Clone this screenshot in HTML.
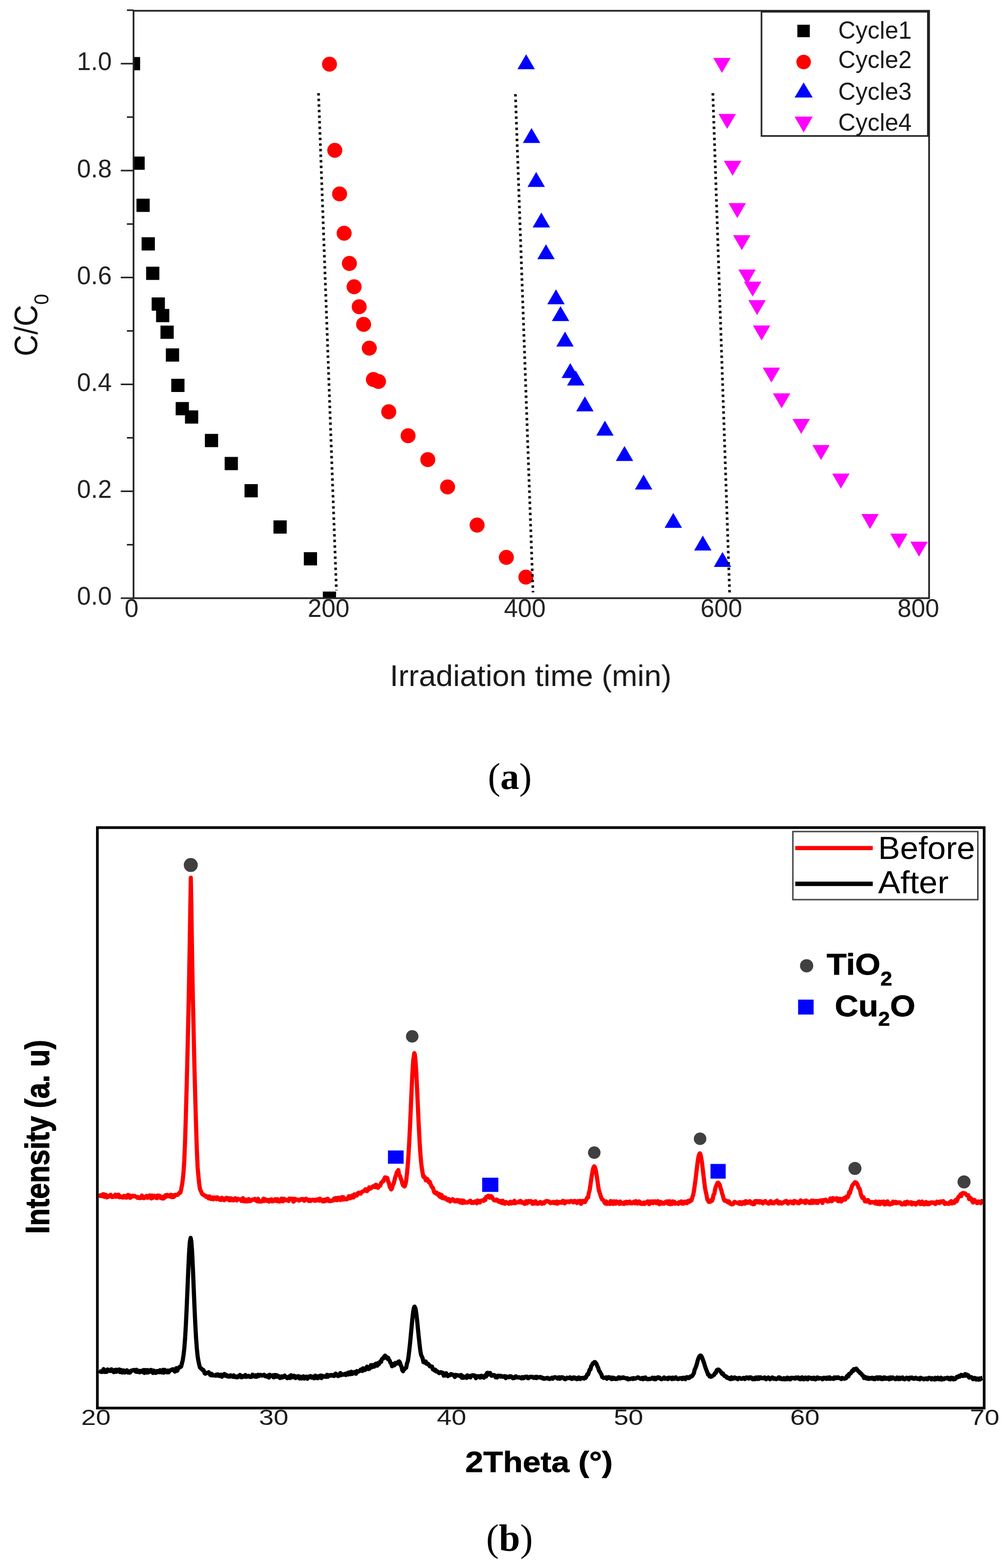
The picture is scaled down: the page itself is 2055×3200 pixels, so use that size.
<!DOCTYPE html>
<html><head><meta charset="utf-8"><title>Figure</title>
<style>html,body{margin:0;padding:0;background:#fff;}body{width:2055px;height:3200px;overflow:hidden;}svg{display:block;}</style>
</head><body>
<svg width="2055" height="3200" viewBox="0 0 2055 3200">
<rect width="2055" height="3200" fill="#fff"/>
<g id="chartA">
<defs><clipPath id="clipA"><rect x="272.5" y="22" width="1623.5" height="1198.8"/></clipPath><clipPath id="clipB"><rect x="198.7" y="1689" width="1809.7" height="1184.6"/></clipPath></defs>
<g clip-path="url(#clipA)">
<g fill="#000"><rect x="259" y="116.4" width="27" height="27"/><rect x="268.3" y="319.5" width="27" height="27"/><rect x="278.5" y="405.5" width="27" height="27"/><rect x="289" y="484.2" width="27" height="27"/><rect x="298.2" y="544.3" width="27" height="27"/><rect x="309.5" y="607" width="27" height="27"/><rect x="318.5" y="630.5" width="27" height="27"/><rect x="327.5" y="664.5" width="27" height="27"/><rect x="338.5" y="711" width="27" height="27"/><rect x="349.5" y="773" width="27" height="27"/><rect x="358.5" y="820.5" width="27" height="27"/><rect x="377.5" y="837.5" width="27" height="27"/><rect x="418.1" y="885.5" width="27" height="27"/><rect x="458.5" y="932.5" width="27" height="27"/><rect x="499" y="988" width="27" height="27"/><rect x="558.1" y="1062" width="27" height="27"/><rect x="620" y="1126.9" width="27" height="27"/><rect x="658.8" y="1207.3" width="27" height="27"/></g>
<g fill="#ff0000"><circle cx="672.4" cy="131" r="15.3"/><circle cx="683.2" cy="306.8" r="15.3"/><circle cx="693" cy="395.7" r="15.3"/><circle cx="702.3" cy="476" r="15.3"/><circle cx="713" cy="537.6" r="15.3"/><circle cx="722.6" cy="585.3" r="15.3"/><circle cx="733" cy="626" r="15.3"/><circle cx="742" cy="662" r="15.3"/><circle cx="753.6" cy="710.5" r="15.3"/><circle cx="762" cy="774.5" r="15.3"/><circle cx="772.4" cy="778.5" r="15.3"/><circle cx="793.3" cy="840.4" r="15.3"/><circle cx="832.8" cy="889.2" r="15.3"/><circle cx="873" cy="938" r="15.3"/><circle cx="913.4" cy="993.7" r="15.3"/><circle cx="973.6" cy="1071.6" r="15.3"/><circle cx="1033.3" cy="1137.5" r="15.3"/><circle cx="1073.2" cy="1177.8" r="15.3"/></g>
<g fill="#0000ff"><path d="M1073.7 110.8L1091.5 141.3L1056 141.3Z"/><path d="M1084.7 261.2L1102.5 291.7L1067 291.7Z"/><path d="M1094.2 351L1112 381.5L1076.5 381.5Z"/><path d="M1104.7 433.7L1122.5 464.2L1087 464.2Z"/><path d="M1114.2 498.5L1132 529L1096.5 529Z"/><path d="M1134.6 590.5L1152.3 621L1116.8 621Z"/><path d="M1143.9 624.7L1161.7 655.2L1126.2 655.2Z"/><path d="M1153.1 676.8L1170.8 707.3L1135.3 707.3Z"/><path d="M1163.8 741L1181.5 771.5L1146 771.5Z"/><path d="M1175 756.3L1192.8 786.8L1157.2 786.8Z"/><path d="M1193.6 808.9L1211.3 839.4L1175.8 839.4Z"/><path d="M1234.5 858.5L1252.2 889L1216.8 889Z"/><path d="M1274.4 910.2L1292.2 940.7L1256.7 940.7Z"/><path d="M1313.4 968.6L1331.2 999.1L1295.7 999.1Z"/><path d="M1374 1046.8L1391.8 1077.3L1356.2 1077.3Z"/><path d="M1434.2 1092.9L1452 1123.4L1416.5 1123.4Z"/><path d="M1474.4 1126.6L1492.2 1157.1L1456.7 1157.1Z"/></g>
<g fill="#ff00ff"><path d="M1455.5 118.3L1491 118.3L1473.3 148.8Z"/><path d="M1466.2 232.6L1501.8 232.6L1484 263.1Z"/><path d="M1477.2 328.2L1512.8 328.2L1495 358.7Z"/><path d="M1486.8 414.4L1522.3 414.4L1504.6 444.9Z"/><path d="M1496 480L1531.5 480L1513.8 510.5Z"/><path d="M1506.8 550L1542.3 550L1524.6 580.5Z"/><path d="M1518.2 574.7L1553.8 574.7L1536 605.2Z"/><path d="M1527.2 612.6L1562.8 612.6L1545 643.1Z"/><path d="M1536.5 664.3L1572 664.3L1554.2 694.8Z"/><path d="M1556.5 750.2L1592 750.2L1574.2 780.7Z"/><path d="M1577.3 802.8L1612.8 802.8L1595.1 833.3Z"/><path d="M1617.3 855L1652.8 855L1635.1 885.5Z"/><path d="M1657.8 908.2L1693.2 908.2L1675.5 938.7Z"/><path d="M1698.2 966.4L1733.8 966.4L1716 996.9Z"/><path d="M1757.8 1049L1793.2 1049L1775.5 1079.5Z"/><path d="M1816.8 1089L1852.2 1089L1834.5 1119.5Z"/><path d="M1857.8 1105.5L1893.2 1105.5L1875.5 1136Z"/></g>
<g stroke="#111" stroke-width="5.5" stroke-dasharray="5 6.4" fill="none">
<line x1="650" y1="190" x2="686.5" y2="1205"/>
<line x1="1051.8" y1="192" x2="1087.7" y2="1209"/>
<line x1="1454.7" y1="190" x2="1489" y2="1211"/>
</g>
</g>
<g stroke="#222" fill="none">
<rect x="272.5" y="22" width="1623.5" height="1198.8" stroke-width="3.5"/>
<line x1="246.5" y1="1220.8" x2="272.5" y2="1220.8" stroke-width="3.2"/>
<line x1="259" y1="1111.7" x2="272.5" y2="1111.7" stroke-width="3.2"/>
<line x1="246.5" y1="1002.6" x2="272.5" y2="1002.6" stroke-width="3.2"/>
<line x1="259" y1="893.5" x2="272.5" y2="893.5" stroke-width="3.2"/>
<line x1="246.5" y1="784.4" x2="272.5" y2="784.4" stroke-width="3.2"/>
<line x1="259" y1="675.3" x2="272.5" y2="675.3" stroke-width="3.2"/>
<line x1="246.5" y1="566.3" x2="272.5" y2="566.3" stroke-width="3.2"/>
<line x1="259" y1="457.2" x2="272.5" y2="457.2" stroke-width="3.2"/>
<line x1="246.5" y1="348.1" x2="272.5" y2="348.1" stroke-width="3.2"/>
<line x1="259" y1="239" x2="272.5" y2="239" stroke-width="3.2"/>
<line x1="246.5" y1="129.9" x2="272.5" y2="129.9" stroke-width="3.2"/>
<line x1="259" y1="20.8" x2="272.5" y2="20.8" stroke-width="3.2"/>
</g>
<g font-family="Liberation Sans, Arial, sans-serif" font-size="51" fill="#222">
<text x="228" y="1234.3" text-anchor="end">0.0</text>
<text x="228" y="1016.1" text-anchor="end">0.2</text>
<text x="228" y="797.9" text-anchor="end">0.4</text>
<text x="228" y="579.8" text-anchor="end">0.6</text>
<text x="228" y="361.6" text-anchor="end">0.8</text>
<text x="228" y="143.4" text-anchor="end">1.0</text>
<text x="268.5" y="1259" text-anchor="middle">0</text>
<text x="670.5" y="1259" text-anchor="middle">200</text>
<text x="1071" y="1259" text-anchor="middle">400</text>
<text x="1472" y="1259" text-anchor="middle">600</text>
<text x="1874" y="1259" text-anchor="middle">800</text>
</g>
<text x="1083" y="1400" text-anchor="middle" font-family="Liberation Sans, Arial, sans-serif" font-size="61" fill="#1a1a1a" textLength="575" lengthAdjust="spacingAndGlyphs">Irradiation time (min)</text>
<g transform="translate(75.5 727) rotate(-90) scale(1 1.08)" font-family="Liberation Sans, Arial, sans-serif" fill="#111"><text x="0" y="0" font-size="61">C/C<tspan font-size="40" dy="22">0</tspan></text></g>
<rect x="1554" y="24" width="339.5" height="253.5" fill="#fff" stroke="#222" stroke-width="3.3"/>
<rect x="1627.2" y="50.5" width="25.4" height="25.4" fill="#000"/>
<circle cx="1640" cy="126.5" r="14.8" fill="#ff0000"/>
<path d="M1640 168.2L1658.5 199L1621.5 199Z" fill="#0000ff"/>
<path d="M1621.5 237.9L1658.5 237.9L1640 270.3Z" fill="#ff00ff"/>
<g font-family="Liberation Sans, Arial, sans-serif" font-size="50" fill="#1a1a1a">
<text x="1710.5" y="78.8" textLength="150" lengthAdjust="spacingAndGlyphs">Cycle1</text>
<text x="1710.5" y="139.4" textLength="150" lengthAdjust="spacingAndGlyphs">Cycle2</text>
<text x="1710.5" y="204.2" textLength="150" lengthAdjust="spacingAndGlyphs">Cycle3</text>
<text x="1710.5" y="266.7" textLength="150" lengthAdjust="spacingAndGlyphs">Cycle4</text>
</g>
</g>
<text x="1040.3" y="1610" text-anchor="middle" font-family="Liberation Serif, Times New Roman, serif" font-size="77" fill="#000">(<tspan font-weight="bold">a</tspan>)</text>
<g id="chartB">
<g clip-path="url(#clipB)" fill="none" stroke-linejoin="round">
<polyline points="201.7,2438.3 203.3,2440.4 204.9,2439.3 206.5,2440.9 208.1,2441 209.7,2437.4 211.3,2437.1 212.9,2442.5 214.5,2438.8 216.1,2438.6 217.7,2443.7 219.3,2440.3 220.9,2442.7 222.5,2440.4 224.1,2441.5 225.7,2438.3 227.3,2441.5 228.9,2443.1 230.5,2440.9 232.1,2442.3 233.7,2441.9 235.3,2437.9 236.9,2442.6 238.5,2441.5 240.1,2439.6 241.7,2437.9 243.3,2443.4 244.9,2440.9 246.5,2442.5 248.1,2443.6 249.7,2442.6 251.3,2444 252.9,2440.5 254.5,2443.3 256.1,2440.9 257.7,2444.2 259.3,2443.9 260.9,2438.8 262.5,2439 264.1,2439.6 265.7,2444.6 267.3,2441.1 268.9,2442.4 270.5,2440.3 272.1,2441.7 273.7,2441 275.3,2440.8 276.9,2442.3 278.5,2442.4 280.1,2444.5 281.7,2443.1 283.3,2444.8 284.9,2444.3 286.5,2445.2 288.1,2443.2 289.7,2439.8 291.3,2444.5 292.9,2445.2 294.5,2444.9 296.1,2442.7 297.7,2443.7 299.3,2440.4 300.9,2444.5 302.5,2442.8 304.1,2441 305.7,2439.6 307.3,2444.8 308.9,2445.7 310.5,2439.8 312.1,2444.6 313.7,2442 315.3,2440.4 316.9,2441.3 318.5,2444.5 320.1,2445.2 321.7,2439.8 323.3,2443.6 324.9,2439.9 326.5,2444.4 328.1,2441.8 329.7,2445.5 331.3,2446 332.9,2442.6 334.5,2445.7 336.1,2440.9 337.7,2439.2 339.3,2442.4 340.9,2438.4 342.5,2439.3 344.1,2440.5 345.7,2441.8 347.3,2438.8 348.9,2438.2 350.5,2443.3 352.1,2439.3 353.7,2443.1 355.3,2442.2 356.9,2438.4 358.5,2438.5 360.1,2438.4 361.7,2438.8 363.3,2438 364.9,2435.7 366.5,2434 368.1,2433.9 369.7,2427.7 371.3,2418.7 372.9,2408.7 374.5,2392.7 376.1,2368 377.7,2328.6 379.3,2276.5 380.9,2219.6 382.5,2155.1 384.1,2086.6 385.7,2010.2 387.3,1919.6 389.4,1791.3 390.5,1851.1 392.1,1958.4 393.7,2041.9 395.3,2113.3 396.9,2181.3 398.5,2242 400.1,2297.2 401.7,2346.5 403.3,2383.1 404.9,2400 406.5,2416 408.1,2426.7 409.7,2430.1 411.3,2433.8 412.9,2437.1 414.5,2437.6 416.1,2439.5 417.7,2439.7 419.3,2440.7 420.9,2442.8 422.5,2441.5 424.1,2442.6 425.7,2445.8 427.3,2441.5 428.9,2445.7 430.5,2447 432.1,2444.3 433.7,2443.8 435.3,2447.7 436.9,2444.1 438.5,2443.8 440.1,2445.5 441.7,2447.3 443.3,2443.5 444.9,2445 446.5,2445.2 448.1,2448.6 449.7,2446 451.3,2448.9 452.9,2444.4 454.5,2445.6 456.1,2447.8 457.7,2449.4 459.3,2446.6 460.9,2445.2 462.5,2444.6 464.1,2447.4 465.7,2445.2 467.3,2449.3 468.9,2449.6 470.5,2445.3 472.1,2446 473.7,2449.6 475.3,2448.6 476.9,2449.7 478.5,2446.7 480.1,2445.4 481.7,2446.5 483.3,2449.9 484.9,2446.5 486.5,2447.1 488.1,2447.6 489.7,2447.7 491.3,2447.7 492.9,2451.1 494.5,2446.2 496.1,2445.2 497.7,2451.5 499.3,2451.1 500.9,2451.9 502.5,2448.3 504.1,2451.8 505.7,2451.7 507.3,2447.1 508.9,2450.6 510.5,2451.3 512.1,2450.2 513.7,2449.3 515.3,2447.9 516.9,2448.3 518.5,2447.6 520.1,2446.6 521.7,2450.1 523.3,2448.1 524.9,2451.5 526.5,2446.5 528.1,2452.1 529.7,2450.7 531.3,2452.2 532.9,2452.1 534.5,2452.1 536.1,2449.9 537.7,2446.2 539.3,2451 540.9,2447.3 542.5,2448.1 544.1,2450.5 545.7,2449.6 547.3,2448.8 548.9,2452.3 550.5,2450.1 552.1,2448.3 553.7,2447.7 555.3,2451.8 556.9,2449.2 558.5,2451.2 560.1,2448.4 561.7,2447.4 563.3,2449.6 564.9,2451.4 566.5,2447.2 568.1,2451.3 569.7,2452.1 571.3,2451.3 572.9,2451.5 574.5,2446.1 576.1,2450.2 577.7,2451.7 579.3,2446.3 580.9,2447.8 582.5,2447.8 584.1,2449.5 585.7,2448.8 587.3,2449.1 588.9,2451.1 590.5,2446 592.1,2446.3 593.7,2446.8 595.3,2446.8 596.9,2446.4 598.5,2452.4 600.1,2451.6 601.7,2446.5 603.3,2449.2 604.9,2448 606.5,2448 608.1,2448.2 609.7,2450.2 611.3,2449.8 612.9,2448.3 614.5,2447.1 616.1,2448 617.7,2446.7 619.3,2449.5 620.9,2450.6 622.5,2448.4 624.1,2446.4 625.7,2447 627.3,2448.3 628.9,2449.8 630.5,2451 632.1,2448.3 633.7,2451.1 635.3,2449.9 636.9,2448.7 638.5,2448.3 640.1,2449.1 641.7,2450.4 643.3,2448.6 644.9,2450.4 646.5,2448.8 648.1,2447.4 649.7,2449.3 651.3,2450.3 652.9,2446.2 654.5,2448.5 656.1,2448.5 657.7,2451.5 659.3,2451.9 660.9,2448.2 662.5,2451.6 664.1,2450.9 665.7,2447.4 667.3,2448.8 668.9,2446.5 670.5,2451.1 672.1,2450.1 673.7,2451.5 675.3,2450.9 676.9,2450.1 678.5,2450.5 680.1,2449.4 681.7,2446.1 683.3,2449 684.9,2444.9 686.5,2445.6 688.1,2449.5 689.7,2444.5 691.3,2444.6 692.9,2444.4 694.5,2449.3 696.1,2444.4 697.7,2443.1 699.3,2448.3 700.9,2443.3 702.5,2447.8 704.1,2446.5 705.7,2447.3 707.3,2447.8 708.9,2445.1 710.5,2446.3 712.1,2441 713.7,2445.6 715.3,2443.7 716.9,2444.5 718.5,2439.8 720.1,2443.3 721.7,2443.8 723.3,2437.3 724.9,2438.3 726.5,2439.1 728.1,2440.1 729.7,2435.5 731.3,2434.4 732.9,2434.1 734.5,2435.8 736.1,2436 737.7,2432.9 739.3,2432 740.9,2431.4 742.5,2430.4 744.1,2430.1 745.7,2427 747.3,2428.8 748.9,2431.1 750.5,2426.5 752.1,2427.8 753.7,2423.1 755.3,2425.7 756.9,2425.2 758.5,2423.8 760.1,2421.9 761.7,2420.8 763.3,2420.9 764.9,2422.7 766.5,2418.1 768.1,2418.1 769.7,2422.8 771.3,2424.2 772.9,2421.7 774.5,2419.4 776.1,2419.5 777.7,2414.2 779.3,2413 780.9,2410.8 782.5,2410.6 784.1,2406.1 785.7,2402.7 787.3,2403 788.9,2403.8 790.5,2404.1 792.1,2411.5 793.7,2414.3 795.3,2421.9 796.9,2424.8 798.5,2427.4 800.1,2424.8 801.7,2418.1 803.3,2415.7 804.9,2409.7 806.5,2402.8 808.1,2398.6 809.7,2392.9 811.3,2390.5 812.9,2387.8 814.5,2398.1 816.1,2399.3 817.7,2404.7 819.3,2408.3 820.9,2415 822.5,2418.9 824.1,2420.4 825.7,2421.4 827.3,2417.3 828.9,2409.6 830.5,2395.1 832.1,2378.5 833.7,2355.9 835.3,2327.8 836.9,2294.6 838.5,2258 840.1,2221.2 841.7,2188.2 843.3,2163.4 845.5,2149.2 846.5,2151.6 848.1,2166.4 849.7,2192.4 851.3,2225.4 852.9,2261.2 854.5,2295.8 856.1,2326.5 857.7,2351.7 859.3,2371.4 860.9,2384.3 862.5,2394 864.1,2401.9 865.7,2401.1 867.3,2403.1 868.9,2409 870.5,2405.8 872.1,2406.3 873.7,2409.6 875.3,2413.1 876.9,2411.5 878.5,2416.4 880.1,2419.8 881.7,2422.9 883.3,2423.8 884.9,2429 886.5,2434.1 888.1,2433.1 889.7,2436 891.3,2434 892.9,2435.8 894.5,2439.2 896.1,2436.4 897.7,2442.3 899.3,2443.2 900.9,2438.6 902.5,2445 904.1,2442.1 905.7,2445.5 907.3,2446.2 908.9,2443.9 910.5,2447.2 912.1,2447.8 913.7,2449.6 915.3,2446.8 916.9,2450.5 918.5,2452.1 920.1,2450.4 921.7,2449.7 923.3,2447.1 924.9,2449.8 926.5,2449.1 928.1,2451.7 929.7,2451.7 931.3,2451.2 932.9,2448.8 934.5,2452.1 936.1,2452.2 937.7,2449.4 939.3,2454.3 940.9,2453 942.5,2449.7 944.1,2455.2 945.7,2450.2 947.3,2451.6 948.9,2454.4 950.5,2453.8 952.1,2453.7 953.7,2454.3 955.3,2453.1 956.9,2452.1 958.5,2451.2 960.1,2450.5 961.7,2454.8 963.3,2455.1 964.9,2453.7 966.5,2454.9 968.1,2452.4 969.7,2451.8 971.3,2452.5 972.9,2455.7 974.5,2450.1 976.1,2453 977.7,2451.1 979.3,2454.2 980.9,2451 982.5,2450.3 984.1,2450 985.7,2450.1 987.3,2450.6 988.9,2446.7 990.5,2448.8 992.1,2442.8 993.7,2442.8 995.3,2440.8 996.9,2440.3 999,2444.4 1000.1,2444.2 1001.7,2441 1003.3,2441.8 1004.9,2444.2 1006.5,2447.5 1008.1,2449.1 1009.7,2449.9 1011.3,2449.9 1012.9,2447.9 1014.5,2450.4 1016.1,2449.7 1017.7,2452.5 1019.3,2453.2 1020.9,2451 1022.5,2451.6 1024.1,2455.2 1025.7,2450.4 1027.3,2455.5 1028.9,2456.2 1030.5,2456.6 1032.1,2452.9 1033.7,2454 1035.3,2454.2 1036.9,2454.6 1038.5,2456.8 1040.1,2454.9 1041.7,2452.4 1043.3,2456.1 1044.9,2453.6 1046.5,2454.4 1048.1,2455.2 1049.7,2450.5 1051.3,2455.5 1052.9,2454.8 1054.5,2453.7 1056.1,2453.9 1057.7,2453.5 1059.3,2451.8 1060.9,2454 1062.5,2450.8 1064.1,2453.8 1065.7,2454.8 1067.3,2453.5 1068.9,2454.3 1070.5,2456.9 1072.1,2456.4 1073.7,2451.4 1075.3,2455.8 1076.9,2454.7 1078.5,2450.9 1080.1,2452.9 1081.7,2452.1 1083.3,2451.1 1084.9,2454.1 1086.5,2456.7 1088.1,2452.7 1089.7,2456.4 1091.3,2455.2 1092.9,2451.5 1094.5,2456.3 1096.1,2454.6 1097.7,2456.8 1099.3,2455.4 1100.9,2455.5 1102.5,2452.9 1104.1,2456 1105.7,2456.8 1107.3,2456.3 1108.9,2453.5 1110.5,2455.7 1112.1,2453.9 1113.7,2451.4 1115.3,2451 1116.9,2451.2 1118.5,2452 1120.1,2451.7 1121.7,2454 1123.3,2455.3 1124.9,2454.2 1126.5,2453.5 1128.1,2455 1129.7,2452.7 1131.3,2453.8 1132.9,2455.7 1134.5,2453.4 1136.1,2451.9 1137.7,2456.6 1139.3,2455.5 1140.9,2453.1 1142.5,2453.2 1144.1,2454.2 1145.7,2454.7 1147.3,2452.2 1148.9,2450.7 1150.5,2452.1 1152.1,2455.9 1153.7,2451.7 1155.3,2453.8 1156.9,2452 1158.5,2452.1 1160.1,2451.8 1161.7,2453.4 1163.3,2451.8 1164.9,2450.9 1166.5,2451.4 1168.1,2451.8 1169.7,2453.9 1171.3,2451.1 1172.9,2450.8 1174.5,2453.6 1176.1,2453.3 1177.7,2455.3 1179.3,2451 1180.9,2453.3 1182.5,2453.2 1184.1,2450.7 1185.7,2456.9 1187.3,2451.9 1188.9,2450.9 1190.5,2453.3 1192.1,2450.9 1193.7,2453.3 1195.3,2450.4 1196.9,2447.2 1198.5,2443.8 1200.1,2443.8 1201.7,2434.8 1203.3,2429.2 1204.9,2418.1 1206.5,2407.4 1208.1,2396.9 1209.7,2387.9 1211.3,2382 1212.7,2380.3 1214.5,2383.1 1216.1,2389.9 1217.7,2399.4 1219.3,2410.2 1220.9,2422 1222.5,2430.7 1224.1,2434.8 1225.7,2440.5 1227.3,2444.9 1228.9,2448.1 1230.5,2448.8 1232.1,2449.9 1233.7,2454.3 1235.3,2456.3 1236.9,2451.8 1238.5,2457 1240.1,2453.8 1241.7,2456 1243.3,2456.8 1244.9,2457 1246.5,2451 1248.1,2452.8 1249.7,2454.8 1251.3,2457.1 1252.9,2451.5 1254.5,2452.8 1256.1,2456.5 1257.7,2451.7 1259.3,2453.5 1260.9,2453.1 1262.5,2455.4 1264.1,2457.1 1265.7,2452.1 1267.3,2455.9 1268.9,2455.8 1270.5,2456.5 1272.1,2454.7 1273.7,2457.1 1275.3,2453.4 1276.9,2453.8 1278.5,2452.6 1280.1,2456.2 1281.7,2454.2 1283.3,2452.8 1284.9,2452.2 1286.5,2455.8 1288.1,2455.1 1289.7,2455.8 1291.3,2453.6 1292.9,2454.3 1294.5,2452.1 1296.1,2455.8 1297.7,2451.3 1299.3,2454.2 1300.9,2456.1 1302.5,2455.6 1304.1,2451.8 1305.7,2452.7 1307.3,2456.7 1308.9,2455.4 1310.5,2456.9 1312.1,2456.9 1313.7,2454.1 1315.3,2457.1 1316.9,2456 1318.5,2453.4 1320.1,2453.6 1321.7,2451.6 1323.3,2453.8 1324.9,2457.5 1326.5,2451.9 1328.1,2454.9 1329.7,2451.9 1331.3,2451.7 1332.9,2455.5 1334.5,2452.8 1336.1,2451.5 1337.7,2452.2 1339.3,2455.5 1340.9,2455.1 1342.5,2451.3 1344.1,2452.7 1345.7,2457.6 1347.3,2452.7 1348.9,2454.9 1350.5,2454 1352.1,2456.4 1353.7,2455.2 1355.3,2456.4 1356.9,2454.7 1358.5,2452.5 1360.1,2452.4 1361.7,2451.7 1363.3,2456.7 1364.9,2451.9 1366.5,2451.4 1368.1,2457.6 1369.7,2452.5 1371.3,2457.1 1372.9,2451.8 1374.5,2454.3 1376.1,2452.6 1377.7,2456.6 1379.3,2455.2 1380.9,2455.4 1382.5,2456.2 1384.1,2456.9 1385.7,2453.4 1387.3,2455.1 1388.9,2454 1390.5,2451.8 1392.1,2456.5 1393.7,2454.9 1395.3,2456.3 1396.9,2452.3 1398.5,2454.4 1400.1,2453.9 1401.7,2455.5 1403.3,2451 1404.9,2452.5 1406.5,2452.9 1408.1,2449.2 1409.7,2450.8 1411.3,2449.4 1412.9,2443.4 1414.5,2439.1 1416.1,2430.7 1417.7,2419.5 1419.3,2408 1420.9,2394.5 1422.5,2380.8 1424.1,2368.5 1425.7,2359.1 1428,2353.7 1428.9,2354.5 1430.5,2360.1 1432.1,2369.9 1433.7,2382.5 1435.3,2396.2 1436.9,2409.5 1438.5,2422.5 1440.1,2431.4 1441.7,2438.3 1443.3,2447.2 1444.9,2450.5 1446.5,2452.9 1448.1,2450.7 1449.7,2452.5 1451.3,2448.9 1452.9,2450.7 1454.5,2446.9 1456.1,2438.4 1457.7,2436.7 1459.3,2427.2 1460.9,2421.5 1462.5,2418.1 1464.1,2414.3 1465.5,2413.6 1467.3,2415.4 1468.9,2418.1 1470.5,2425.1 1472.1,2429.3 1473.7,2435.8 1475.3,2440.4 1476.9,2447.2 1478.5,2450.5 1480.1,2449.7 1481.7,2449.9 1483.3,2452.1 1484.9,2453.4 1486.5,2451.5 1488.1,2452.2 1489.7,2456.3 1491.3,2455.9 1492.9,2457.8 1494.5,2457.8 1496.1,2457.2 1497.7,2453.9 1499.3,2452.5 1500.9,2453.5 1502.5,2454.5 1504.1,2454.9 1505.7,2455 1507.3,2453.8 1508.9,2457 1510.5,2453.2 1512.1,2454.4 1513.7,2457.2 1515.3,2456.6 1516.9,2453.2 1518.5,2452.9 1520.1,2456.6 1521.7,2451.3 1523.3,2452.1 1524.9,2454.7 1526.5,2454.7 1528.1,2452.2 1529.7,2451.4 1531.3,2452.4 1532.9,2456.1 1534.5,2454.1 1536.1,2457.5 1537.7,2456.2 1539.3,2457.4 1540.9,2451.2 1542.5,2452.1 1544.1,2451 1545.7,2453.7 1547.3,2453.1 1548.9,2451.2 1550.5,2454.4 1552.1,2451.4 1553.7,2452.8 1555.3,2452.3 1556.9,2456 1558.5,2453.4 1560.1,2452.4 1561.7,2450.9 1563.3,2453.4 1564.9,2454.7 1566.5,2455 1568.1,2456.5 1569.7,2455.8 1571.3,2452.1 1572.9,2451.3 1574.5,2455.4 1576.1,2455.6 1577.7,2453.7 1579.3,2455.8 1580.9,2453.9 1582.5,2452.1 1584.1,2451.4 1585.7,2450.3 1587.3,2454.4 1588.9,2456.1 1590.5,2456.1 1592.1,2453.2 1593.7,2454.5 1595.3,2456.2 1596.9,2455.4 1598.5,2454 1600.1,2452.7 1601.7,2453.4 1603.3,2451.1 1604.9,2451.1 1606.5,2454.4 1608.1,2456.4 1609.7,2453.4 1611.3,2452.5 1612.9,2452.1 1614.5,2452.7 1616.1,2455 1617.7,2452.7 1619.3,2456 1620.9,2450.7 1622.5,2451.7 1624.1,2453 1625.7,2452.3 1627.3,2455.2 1628.9,2455 1630.5,2455.6 1632.1,2453.5 1633.7,2449.6 1635.3,2453.2 1636.9,2453 1638.5,2452.6 1640.1,2451.2 1641.7,2454 1643.3,2455.3 1644.9,2449.9 1646.5,2453.6 1648.1,2451.6 1649.7,2452.6 1651.3,2455 1652.9,2455.4 1654.5,2453.3 1656.1,2450.3 1657.7,2455.1 1659.3,2450.2 1660.9,2451.5 1662.5,2454.4 1664.1,2451 1665.7,2450.7 1667.3,2455.1 1668.9,2455 1670.5,2450.9 1672.1,2451.4 1673.7,2450.6 1675.3,2449.6 1676.9,2450.3 1678.5,2455.1 1680.1,2449.1 1681.7,2449.8 1683.3,2449.3 1684.9,2448.1 1686.5,2450.8 1688.1,2451.9 1689.7,2452.2 1691.3,2450.5 1692.9,2451.4 1694.5,2445.7 1696.1,2447.2 1697.7,2451.4 1699.3,2445.1 1700.9,2446.4 1702.5,2447.9 1704.1,2446.6 1705.7,2448.5 1707.3,2445.3 1708.9,2446.6 1710.5,2451.5 1712.1,2446.2 1713.7,2451.3 1715.3,2446.5 1716.9,2451.9 1718.5,2449.7 1720.1,2449.3 1721.7,2445.6 1723.3,2444.4 1724.9,2448.2 1726.5,2443.2 1728.1,2441.6 1729.7,2443.6 1731.3,2441.3 1732.9,2432.7 1734.5,2434.8 1736.1,2428.5 1737.7,2423.9 1739.3,2419.4 1740.9,2417.1 1742.5,2415.9 1744.1,2413.1 1745.4,2412.6 1747.3,2413.5 1748.9,2415.4 1750.5,2418.9 1752.1,2424.4 1753.7,2425.1 1755.3,2429.5 1756.9,2437.8 1758.5,2442.1 1760.1,2445.1 1761.7,2443 1763.3,2445.9 1764.9,2451.5 1766.5,2449.7 1768.1,2452.2 1769.7,2450.3 1771.3,2448.9 1772.9,2451.4 1774.5,2454.3 1776.1,2454.8 1777.7,2453.6 1779.3,2453 1780.9,2453.7 1782.5,2453.2 1784.1,2453.9 1785.7,2456 1787.3,2452 1788.9,2454.7 1790.5,2457 1792.1,2456.6 1793.7,2452.3 1795.3,2457.6 1796.9,2456.9 1798.5,2452.6 1800.1,2453.3 1801.7,2452.9 1803.3,2452 1804.9,2458.1 1806.5,2454.3 1808.1,2457.4 1809.7,2452.4 1811.3,2451.7 1812.9,2457.4 1814.5,2456.9 1816.1,2458.2 1817.7,2456.2 1819.3,2455.1 1820.9,2456.7 1822.5,2452.2 1824.1,2455.2 1825.7,2454.6 1827.3,2452.6 1828.9,2455.6 1830.5,2453.8 1832.1,2455 1833.7,2454.1 1835.3,2453.7 1836.9,2454 1838.5,2455.6 1840.1,2458.1 1841.7,2457.8 1843.3,2457.3 1844.9,2457.2 1846.5,2453.5 1848.1,2458.1 1849.7,2453.4 1851.3,2452.5 1852.9,2455 1854.5,2456.5 1856.1,2453.9 1857.7,2455.9 1859.3,2453.5 1860.9,2458 1862.5,2454.6 1864.1,2454.8 1865.7,2455.2 1867.3,2457.4 1868.9,2458.2 1870.5,2455.1 1872.1,2454.6 1873.7,2455.7 1875.3,2452.1 1876.9,2454.5 1878.5,2457.3 1880.1,2456.8 1881.7,2452.1 1883.3,2457.3 1884.9,2454.2 1886.5,2458.1 1888.1,2454.1 1889.7,2453.1 1891.3,2455.3 1892.9,2457.5 1894.5,2454.5 1896.1,2457.4 1897.7,2456.3 1899.3,2454 1900.9,2453.6 1902.5,2454.9 1904.1,2454.2 1905.7,2454 1907.3,2455.8 1908.9,2457.3 1910.5,2455.3 1912.1,2452.4 1913.7,2452.8 1915.3,2453.8 1916.9,2455.4 1918.5,2452.2 1920.1,2451.8 1921.7,2453.3 1923.3,2453.1 1924.9,2451.3 1926.5,2454.7 1928.1,2457.2 1929.7,2454.6 1931.3,2455.9 1932.9,2456.4 1934.5,2456.4 1936.1,2456.9 1937.7,2453.7 1939.3,2455.2 1940.9,2451.3 1942.5,2456.1 1944.1,2452.5 1945.7,2452.8 1947.3,2455 1948.9,2450.3 1950.5,2448.7 1952.1,2451.7 1953.7,2448.8 1955.3,2443.7 1956.9,2441.5 1958.5,2441.6 1960.1,2437.4 1961.7,2441 1963.3,2435.2 1964.9,2434.7 1966.5,2434.7 1967.4,2435.3 1969.7,2435.4 1971.3,2437.7 1972.9,2439.4 1974.5,2439.7 1976.1,2439.4 1977.7,2447.1 1979.3,2447 1980.9,2444.7 1982.5,2448.4 1984.1,2451.7 1985.7,2454.1 1987.3,2448.7 1988.9,2448.9 1990.5,2452.3 1992.1,2452.2 1993.7,2455.4 1995.3,2455.1 1996.9,2451.9 1998.5,2452.5 2000.1,2453.5 2001.7,2455.5 2003.3,2451 2004.9,2452.2" stroke="#ff0000" stroke-width="8.5"/>
<polyline points="201.7,2797.6 203.3,2798.5 204.9,2798.8 206.5,2799.8 208.1,2798.6 209.7,2799.8 211.3,2794.1 212.9,2796.9 214.5,2800 216.1,2798.2 217.7,2799.8 219.3,2794.8 220.9,2797.2 222.5,2795.8 224.1,2797.7 225.7,2798 227.3,2794.4 228.9,2795.7 230.5,2796.2 232.1,2800.3 233.7,2799.4 235.3,2795.5 236.9,2799.7 238.5,2795.5 240.1,2798.6 241.7,2795.5 243.3,2794.7 244.9,2800.3 246.5,2796.1 248.1,2796.2 249.7,2801.1 251.3,2800.5 252.9,2796.8 254.5,2801.1 256.1,2798.5 257.7,2799.4 259.3,2796.4 260.9,2801.1 262.5,2799.6 264.1,2801.4 265.7,2800.9 267.3,2797.2 268.9,2797.6 270.5,2796.4 272.1,2796.3 273.7,2795.8 275.3,2797.3 276.9,2799.3 278.5,2795.5 280.1,2799.8 281.7,2797.7 283.3,2797.5 284.9,2800.8 286.5,2798.7 288.1,2797.6 289.7,2798.7 291.3,2800.2 292.9,2796 294.5,2801.9 296.1,2795.9 297.7,2800.5 299.3,2801.2 300.9,2795.9 302.5,2800.8 304.1,2798.1 305.7,2799.5 307.3,2795.8 308.9,2796.1 310.5,2796.9 312.1,2801.9 313.7,2797 315.3,2800.6 316.9,2801.7 318.5,2801.8 320.1,2797.9 321.7,2798 323.3,2799 324.9,2800.6 326.5,2796.3 328.1,2800.3 329.7,2800.6 331.3,2800.9 332.9,2795.6 334.5,2801.3 336.1,2795.7 337.7,2797.2 339.3,2798.8 340.9,2800.8 342.5,2797 344.1,2800.6 345.7,2798.1 347.3,2796.5 348.9,2796.3 350.5,2795.2 352.1,2794.4 353.7,2794.5 355.3,2797.6 356.9,2799.2 358.5,2793.4 360.1,2792.1 361.7,2797.4 363.3,2793.7 364.9,2791.9 366.5,2789.5 368.1,2789.9 369.7,2788.6 371.3,2782.4 372.9,2776 374.5,2765.8 376.1,2752.1 377.7,2731.6 379.3,2704.3 380.9,2670.6 382.5,2632.6 384.1,2593.8 385.7,2559.6 387.3,2535.5 389,2526.2 390.5,2533.7 392.1,2556.4 393.7,2590 395.3,2628.7 396.9,2667.4 398.5,2702 400.1,2730.4 401.7,2752 403.3,2768 404.9,2777.7 406.5,2784.8 408.1,2790.8 409.7,2792.3 411.3,2793.3 412.9,2795.7 414.5,2795.4 416.1,2797.9 417.7,2802.8 419.3,2803.5 420.9,2802.1 422.5,2802 424.1,2801.5 425.7,2800.5 427.3,2802.2 428.9,2805.9 430.5,2806.8 432.1,2803.8 433.7,2806.8 435.3,2807 436.9,2806.7 438.5,2806.7 440.1,2807.5 441.7,2805.1 443.3,2807.4 444.9,2804.8 446.5,2806.3 448.1,2808.2 449.7,2807.8 451.3,2805.4 452.9,2809.7 454.5,2807.9 456.1,2807.5 457.7,2803.9 459.3,2807.4 460.9,2805.6 462.5,2808.4 464.1,2807.1 465.7,2809.4 467.3,2808.4 468.9,2809.4 470.5,2806.6 472.1,2808.5 473.7,2809.2 475.3,2809.8 476.9,2806.8 478.5,2810 480.1,2810.2 481.7,2809.1 483.3,2810.9 484.9,2810.8 486.5,2808.1 488.1,2808.2 489.7,2805.9 491.3,2810.2 492.9,2810.9 494.5,2808 496.1,2809.3 497.7,2809.6 499.3,2809.6 500.9,2806.1 502.5,2810 504.1,2808.8 505.7,2809.3 507.3,2807.8 508.9,2809.1 510.5,2810.1 512.1,2809.2 513.7,2809.8 515.3,2805.4 516.9,2806.2 518.5,2808 520.1,2809.4 521.7,2806.7 523.3,2809.7 524.9,2809.3 526.5,2805.6 528.1,2808.3 529.7,2806.8 531.3,2805.7 532.9,2806.2 534.5,2807.4 536.1,2806.6 537.7,2806.6 539.3,2805.6 540.9,2808.4 542.5,2807.9 544.1,2809.4 545.7,2809.2 547.3,2807 548.9,2811.3 550.5,2805.5 552.1,2808.2 553.7,2807.4 555.3,2808.3 556.9,2806.4 558.5,2811 560.1,2808.2 561.7,2806 563.3,2809.8 564.9,2806.5 566.5,2809.4 568.1,2808.1 569.7,2809.7 571.3,2812.2 572.9,2811.3 574.5,2808.8 576.1,2811.4 577.7,2810.3 579.3,2808.6 580.9,2807.2 582.5,2810.1 584.1,2810 585.7,2812.5 587.3,2812.6 588.9,2810.4 590.5,2808.8 592.1,2812.3 593.7,2806.6 595.3,2807.3 596.9,2810.3 598.5,2810.6 600.1,2807.6 601.7,2810.8 603.3,2812.5 604.9,2809.3 606.5,2809.6 608.1,2808.4 609.7,2808.8 611.3,2813.2 612.9,2809.5 614.5,2813.2 616.1,2813 617.7,2811 619.3,2808.8 620.9,2813.5 622.5,2810.4 624.1,2810 625.7,2809.4 627.3,2813.7 628.9,2810.6 630.5,2809.3 632.1,2810.5 633.7,2808.3 635.3,2811.5 636.9,2810.4 638.5,2809.5 640.1,2812.7 641.7,2812.8 643.3,2807.4 644.9,2810.6 646.5,2808.8 648.1,2812.8 649.7,2811.7 651.3,2808.1 652.9,2808.1 654.5,2807.2 656.1,2812.4 657.7,2807.8 659.3,2809.6 660.9,2808.6 662.5,2809.6 664.1,2809.1 665.7,2809.9 667.3,2805.7 668.9,2809.7 670.5,2806.6 672.1,2807.9 673.7,2806.5 675.3,2806.1 676.9,2807.4 678.5,2806.8 680.1,2806 681.7,2808.2 683.3,2807 684.9,2803.3 686.5,2804.5 688.1,2805.6 689.7,2808.3 691.3,2807.9 692.9,2805.5 694.5,2801.9 696.1,2806.6 697.7,2804.2 699.3,2804.9 700.9,2805.5 702.5,2804.9 704.1,2803.7 705.7,2806.2 707.3,2802.7 708.9,2802.5 710.5,2805.2 712.1,2800.8 713.7,2801.3 715.3,2804.5 716.9,2799.4 718.5,2804.1 720.1,2803 721.7,2801.1 723.3,2800 724.9,2802.9 726.5,2803.6 728.1,2798.1 729.7,2799.6 731.3,2799.4 732.9,2798.5 734.5,2796.8 736.1,2795 737.7,2797.1 739.3,2797.9 740.9,2792.5 742.5,2792.9 744.1,2796.1 745.7,2795.3 747.3,2793.8 748.9,2789.1 750.5,2792.9 752.1,2793.9 753.7,2793.4 755.3,2790.8 756.9,2786 758.5,2790.4 760.1,2785.8 761.7,2787.8 763.3,2789.3 764.9,2787.3 766.5,2783.1 768.1,2783.7 769.7,2787.2 771.3,2781.8 772.9,2784.3 774.5,2781.7 776.1,2778.3 777.7,2779.4 779.3,2773.9 780.9,2772.4 782.5,2772.3 784.1,2768.5 785.7,2766.6 787.3,2768.1 788.9,2769.7 790.5,2773.1 792.1,2770.8 793.7,2775.2 795.3,2776.9 796.9,2781.2 798.5,2783 800.1,2788.3 801.7,2786.7 803.3,2783.4 804.9,2786.2 806.5,2781.5 808.1,2783.3 809.7,2781.2 811.3,2782.5 812.9,2779 814.5,2778.4 816.1,2780.4 817.7,2786.4 819.3,2788.7 820.9,2796 822.5,2798.4 824.1,2795 825.7,2793.9 827.3,2792.4 828.9,2791.2 830.5,2782.6 832.1,2778.7 833.7,2768.4 835.3,2754.9 836.9,2740.4 838.5,2723.6 840.1,2706.1 841.7,2689.8 843.3,2676.6 844.9,2668.4 846,2666.5 848.1,2671.3 849.7,2681.6 851.3,2695.8 852.9,2711.8 854.5,2727.9 856.1,2742.4 857.7,2756 859.3,2764.8 860.9,2768.6 862.5,2772.1 864.1,2780 865.7,2779.3 867.3,2781 868.9,2778.5 870.5,2783.2 872.1,2782.9 873.7,2783.4 875.3,2785.3 876.9,2788.4 878.5,2787.9 880.1,2789.3 881.7,2789 883.3,2794.6 884.9,2794.5 886.5,2796.5 888.1,2795.2 889.7,2798.9 891.3,2797.8 892.9,2799.3 894.5,2800.2 896.1,2802.3 897.7,2801.1 899.3,2800.2 900.9,2800.8 902.5,2802.6 904.1,2801.8 905.7,2807.5 907.3,2805 908.9,2807 910.5,2802.4 912.1,2805.6 913.7,2808.5 915.3,2806.9 916.9,2805.9 918.5,2806.4 920.1,2804.2 921.7,2804.8 923.3,2805 924.9,2806.6 926.5,2806.9 928.1,2810.2 929.7,2805.8 931.3,2806.6 932.9,2807 934.5,2806.4 936.1,2807.4 937.7,2807.2 939.3,2808.8 940.9,2806 942.5,2811.7 944.1,2808.2 945.7,2811.9 947.3,2810.3 948.9,2810.3 950.5,2809 952.1,2812.1 953.7,2806.8 955.3,2810.4 956.9,2808 958.5,2810.5 960.1,2810.9 961.7,2807.3 963.3,2807.6 964.9,2806.5 966.5,2807.8 968.1,2806.9 969.7,2809 971.3,2812.7 972.9,2808.8 974.5,2808.5 976.1,2809.5 977.7,2808.4 979.3,2811.3 980.9,2811.2 982.5,2807.7 984.1,2808.3 985.7,2810.7 987.3,2811.5 988.9,2808.8 990.5,2806.5 992.1,2809.2 993.7,2802.1 995.3,2801.6 996.9,2805.3 998.5,2802.6 1000.1,2802 1001.7,2805 1003.3,2807.8 1004.9,2806.5 1006.5,2806.5 1008.1,2806.2 1009.7,2806.9 1011.3,2810.8 1012.9,2809.1 1014.5,2811.2 1016.1,2807.4 1017.7,2808.4 1019.3,2807.7 1020.9,2809.3 1022.5,2807.9 1024.1,2808.9 1025.7,2809.7 1027.3,2809.4 1028.9,2808.4 1030.5,2808.4 1032.1,2812.6 1033.7,2809.1 1035.3,2810.6 1036.9,2810.2 1038.5,2810.8 1040.1,2808.8 1041.7,2809.9 1043.3,2809 1044.9,2810.9 1046.5,2812.6 1048.1,2811.2 1049.7,2812.4 1051.3,2809.6 1052.9,2808.8 1054.5,2811.1 1056.1,2810.9 1057.7,2811.3 1059.3,2810.5 1060.9,2811.6 1062.5,2812.1 1064.1,2812.9 1065.7,2810.3 1067.3,2811 1068.9,2812.7 1070.5,2810 1072.1,2809.6 1073.7,2810.5 1075.3,2809.5 1076.9,2812.6 1078.5,2812.8 1080.1,2810.6 1081.7,2809.9 1083.3,2809.7 1084.9,2810.4 1086.5,2809.8 1088.1,2811.3 1089.7,2812 1091.3,2810.6 1092.9,2809.8 1094.5,2812.6 1096.1,2809.8 1097.7,2810.5 1099.3,2810.9 1100.9,2811.3 1102.5,2810.1 1104.1,2811.6 1105.7,2811.1 1107.3,2813.1 1108.9,2812.3 1110.5,2813.8 1112.1,2812.8 1113.7,2813.3 1115.3,2812.5 1116.9,2811.9 1118.5,2813.6 1120.1,2812.9 1121.7,2814.3 1123.3,2813.3 1124.9,2813.2 1126.5,2811.4 1128.1,2813.8 1129.7,2811.9 1131.3,2810.8 1132.9,2810.6 1134.5,2811.1 1136.1,2811.5 1137.7,2813.4 1139.3,2811.7 1140.9,2810.7 1142.5,2813.8 1144.1,2813 1145.7,2810.7 1147.3,2810.8 1148.9,2811.2 1150.5,2812.2 1152.1,2814.4 1153.7,2814.8 1155.3,2813.3 1156.9,2811.6 1158.5,2812.5 1160.1,2812.2 1161.7,2812.1 1163.3,2810.7 1164.9,2813.2 1166.5,2814.2 1168.1,2813.8 1169.7,2811 1171.3,2812.9 1172.9,2811.3 1174.5,2813.7 1176.1,2812.5 1177.7,2814.7 1179.3,2814 1180.9,2811 1182.5,2811.9 1184.1,2814.4 1185.7,2812.4 1187.3,2812.1 1188.9,2812 1190.5,2813.1 1192.1,2813.4 1193.7,2810.9 1195.3,2811.8 1196.9,2808.7 1198.5,2804.5 1200.1,2805.1 1201.7,2800.3 1203.3,2795.1 1204.9,2794.9 1206.5,2787.8 1208.1,2785.8 1209.7,2782.6 1211.3,2781.4 1213,2779.7 1214.5,2780 1216.1,2781.9 1217.7,2784.5 1219.3,2789 1220.9,2792.2 1222.5,2797.6 1224.1,2799.1 1225.7,2802.7 1227.3,2804.9 1228.9,2810.2 1230.5,2811.1 1232.1,2812.2 1233.7,2811.9 1235.3,2811.5 1236.9,2810.7 1238.5,2813.9 1240.1,2812.5 1241.7,2810.6 1243.3,2811.2 1244.9,2810.9 1246.5,2813.7 1248.1,2814.5 1249.7,2811.4 1251.3,2814.1 1252.9,2812 1254.5,2813.6 1256.1,2814.4 1257.7,2813.3 1259.3,2814.1 1260.9,2812.3 1262.5,2810.7 1264.1,2812.9 1265.7,2813.2 1267.3,2811.4 1268.9,2812.3 1270.5,2812 1272.1,2810.8 1273.7,2812 1275.3,2812.3 1276.9,2812.7 1278.5,2813.7 1280.1,2812.4 1281.7,2815 1283.3,2814.2 1284.9,2814.7 1286.5,2813.7 1288.1,2813.6 1289.7,2813 1291.3,2814.2 1292.9,2812.3 1294.5,2813.3 1296.1,2813.7 1297.7,2813 1299.3,2811.9 1300.9,2811 1302.5,2811.1 1304.1,2812.2 1305.7,2813.2 1307.3,2814 1308.9,2813.8 1310.5,2812 1312.1,2814.8 1313.7,2811.9 1315.3,2813.8 1316.9,2811 1318.5,2814 1320.1,2813.6 1321.7,2814.9 1323.3,2814.6 1324.9,2813.7 1326.5,2814.4 1328.1,2813.9 1329.7,2813.4 1331.3,2811.6 1332.9,2812.9 1334.5,2814.6 1336.1,2811.7 1337.7,2815 1339.3,2813.1 1340.9,2812.4 1342.5,2810.7 1344.1,2812.4 1345.7,2811.4 1347.3,2813.5 1348.9,2814.6 1350.5,2814.7 1352.1,2813.4 1353.7,2812.4 1355.3,2811.1 1356.9,2813.7 1358.5,2813.1 1360.1,2813.8 1361.7,2812.3 1363.3,2814.5 1364.9,2811.6 1366.5,2812 1368.1,2811.8 1369.7,2813.4 1371.3,2814.6 1372.9,2811.4 1374.5,2813.4 1376.1,2814 1377.7,2811.6 1379.3,2810.9 1380.9,2813.1 1382.5,2814.2 1384.1,2814.4 1385.7,2813.8 1387.3,2812.4 1388.9,2812.4 1390.5,2812.9 1392.1,2814.5 1393.7,2811.8 1395.3,2811.7 1396.9,2813.1 1398.5,2814.7 1400.1,2811.2 1401.7,2810.4 1403.3,2810.6 1404.9,2812.4 1406.5,2812.2 1408.1,2809.7 1409.7,2808.8 1411.3,2809.3 1412.9,2807.6 1414.5,2805.2 1416.1,2802 1417.7,2794.9 1419.3,2791.8 1420.9,2787.4 1422.5,2781.8 1424.1,2775.5 1425.7,2771.4 1427.3,2768 1429.4,2766.4 1430.5,2766.8 1432.1,2769 1433.7,2773 1435.3,2777.5 1436.9,2782.1 1438.5,2787.5 1440.1,2792.3 1441.7,2796.4 1443.3,2800.4 1444.9,2805.3 1446.5,2805.1 1448.1,2809.1 1449.7,2809.5 1451.3,2809.7 1452.9,2809 1454.5,2807.4 1456.1,2806.8 1457.7,2805.2 1459.3,2801.9 1460.9,2801.7 1462.5,2796.4 1464.1,2795.5 1466,2794.9 1467.3,2795.7 1468.9,2797.3 1470.5,2799 1472.1,2801.7 1473.7,2803.8 1475.3,2802.8 1476.9,2806 1478.5,2808.2 1480.1,2808.8 1481.7,2808.7 1483.3,2811.6 1484.9,2811.2 1486.5,2812.9 1488.1,2812.3 1489.7,2814.6 1491.3,2814.6 1492.9,2810.8 1494.5,2813.9 1496.1,2813.7 1497.7,2811.9 1499.3,2811.1 1500.9,2812.7 1502.5,2812.2 1504.1,2813.9 1505.7,2814.7 1507.3,2812.3 1508.9,2811.9 1510.5,2812.9 1512.1,2813.7 1513.7,2814.1 1515.3,2813.2 1516.9,2812 1518.5,2812.2 1520.1,2814.4 1521.7,2813 1523.3,2810.9 1524.9,2812.5 1526.5,2811.7 1528.1,2813.6 1529.7,2811 1531.3,2811.9 1532.9,2811.1 1534.5,2812.8 1536.1,2815 1537.7,2813.1 1539.3,2812.4 1540.9,2814.8 1542.5,2811.1 1544.1,2812.3 1545.7,2814.3 1547.3,2810.7 1548.9,2814.1 1550.5,2812.3 1552.1,2810.8 1553.7,2811.8 1555.3,2812.7 1556.9,2812.4 1558.5,2813 1560.1,2811 1561.7,2811.7 1563.3,2815 1564.9,2812.7 1566.5,2812.8 1568.1,2811.1 1569.7,2812 1571.3,2814.9 1572.9,2813.8 1574.5,2813 1576.1,2811 1577.7,2812.5 1579.3,2814.2 1580.9,2812.7 1582.5,2813.4 1584.1,2814.7 1585.7,2813.6 1587.3,2813.5 1588.9,2810.9 1590.5,2810.9 1592.1,2814.1 1593.7,2812.6 1595.3,2814.6 1596.9,2814.4 1598.5,2814.8 1600.1,2812.4 1601.7,2815.1 1603.3,2814.1 1604.9,2814.7 1606.5,2811.4 1608.1,2814.2 1609.7,2812.6 1611.3,2815 1612.9,2815.1 1614.5,2811.7 1616.1,2812.6 1617.7,2811.9 1619.3,2812.8 1620.9,2812 1622.5,2813.7 1624.1,2811.3 1625.7,2811.5 1627.3,2812.8 1628.9,2811.1 1630.5,2812.4 1632.1,2814.7 1633.7,2814.7 1635.3,2811.6 1636.9,2810.8 1638.5,2814.4 1640.1,2815 1641.7,2813.4 1643.3,2811.4 1644.9,2811.8 1646.5,2814.8 1648.1,2814.9 1649.7,2810.9 1651.3,2811.6 1652.9,2812.6 1654.5,2811.9 1656.1,2814.1 1657.7,2812.4 1659.3,2814.2 1660.9,2811.4 1662.5,2813 1664.1,2815 1665.7,2813.8 1667.3,2811.2 1668.9,2811.2 1670.5,2813.6 1672.1,2812.4 1673.7,2812.4 1675.3,2812.9 1676.9,2813.3 1678.5,2815 1680.1,2811.8 1681.7,2813.2 1683.3,2811.9 1684.9,2813.1 1686.5,2814 1688.1,2811.3 1689.7,2812.9 1691.3,2813.8 1692.9,2810.8 1694.5,2814.1 1696.1,2812.6 1697.7,2812.9 1699.3,2813.4 1700.9,2814.2 1702.5,2811 1704.1,2812.9 1705.7,2810.9 1707.3,2812.4 1708.9,2812.2 1710.5,2810.8 1712.1,2812 1713.7,2812.6 1715.3,2813.5 1716.9,2814.6 1718.5,2812 1720.1,2812.6 1721.7,2813.1 1723.3,2813.8 1724.9,2813.3 1726.5,2812.8 1728.1,2808.9 1729.7,2807.2 1731.3,2809.1 1732.9,2803.7 1734.5,2803.5 1736.1,2802.8 1737.7,2799.9 1739.3,2797.3 1740.9,2797.9 1742.5,2794.1 1744.1,2794.4 1745.3,2795.2 1747.3,2793.1 1748.9,2794.9 1750.5,2796.9 1752.1,2799.1 1753.7,2799.5 1755.3,2802.6 1756.9,2802.7 1758.5,2804.6 1760.1,2807.3 1761.7,2807.7 1763.3,2812.3 1764.9,2810 1766.5,2810.6 1768.1,2813.3 1769.7,2813.4 1771.3,2811.5 1772.9,2814.1 1774.5,2813.3 1776.1,2812.3 1777.7,2813.4 1779.3,2811.7 1780.9,2811.8 1782.5,2814.5 1784.1,2812.6 1785.7,2814.7 1787.3,2811.5 1788.9,2811.3 1790.5,2810.9 1792.1,2814 1793.7,2813.2 1795.3,2810.8 1796.9,2810.9 1798.5,2814.4 1800.1,2812.9 1801.7,2814.6 1803.3,2810.9 1804.9,2813.4 1806.5,2811.3 1808.1,2814 1809.7,2813.5 1811.3,2813.5 1812.9,2811.8 1814.5,2815 1816.1,2811.3 1817.7,2811.1 1819.3,2813.9 1820.9,2811.3 1822.5,2811.2 1824.1,2812.9 1825.7,2813.7 1827.3,2814.8 1828.9,2814.1 1830.5,2811.2 1832.1,2813.8 1833.7,2814.6 1835.3,2811.5 1836.9,2814.3 1838.5,2812.1 1840.1,2812.3 1841.7,2811 1843.3,2814.3 1844.9,2813.3 1846.5,2815 1848.1,2813.1 1849.7,2811.7 1851.3,2812 1852.9,2812.2 1854.5,2815.2 1856.1,2811.9 1857.7,2811.4 1859.3,2812.6 1860.9,2811.4 1862.5,2812.9 1864.1,2813.8 1865.7,2814 1867.3,2811.9 1868.9,2811.7 1870.5,2813.3 1872.1,2814.1 1873.7,2813.1 1875.3,2813.7 1876.9,2815.2 1878.5,2811.8 1880.1,2812.3 1881.7,2813.3 1883.3,2813.5 1884.9,2815.1 1886.5,2813.6 1888.1,2814.1 1889.7,2813.1 1891.3,2814.7 1892.9,2814.9 1894.5,2812.5 1896.1,2811.7 1897.7,2812.4 1899.3,2812.8 1900.9,2815.2 1902.5,2812.4 1904.1,2814 1905.7,2814.1 1907.3,2815.5 1908.9,2811.8 1910.5,2814.7 1912.1,2812.8 1913.7,2811.8 1915.3,2814.1 1916.9,2815 1918.5,2813.9 1920.1,2811.6 1921.7,2815.6 1923.3,2813 1924.9,2814.2 1926.5,2814.5 1928.1,2812.5 1929.7,2813.2 1931.3,2812.8 1932.9,2811.8 1934.5,2811.7 1936.1,2814.5 1937.7,2813.2 1939.3,2815.2 1940.9,2811.6 1942.5,2812.6 1944.1,2812 1945.7,2815.2 1947.3,2814.3 1948.9,2814.5 1950.5,2812.5 1952.1,2810.2 1953.7,2811.1 1955.3,2809.6 1956.9,2807.9 1958.5,2809.5 1960.1,2807.4 1961.7,2805.8 1963.3,2806.9 1964.9,2808.2 1966.5,2807.9 1968,2805.7 1969.7,2804.2 1971.3,2807.5 1972.9,2805.3 1974.5,2807.9 1976.1,2806.7 1977.7,2811.5 1979.3,2810.4 1980.9,2810.7 1982.5,2810.6 1984.1,2812.4 1985.7,2814.7 1987.3,2812.7 1988.9,2812 1990.5,2813.5 1992.1,2815.5 1993.7,2813.2 1995.3,2814.4 1996.9,2815.7 1998.5,2813.1 2000.1,2815.3 2001.7,2814 2003.3,2812.3 2004.9,2812" stroke="#000" stroke-width="8.5"/>
</g>
<g fill="#404040">
<circle cx="389.3" cy="1765.3" r="14.3"/>
<circle cx="841.2" cy="2115" r="12.8"/>
<circle cx="1212.7" cy="2352.2" r="12.8"/>
<circle cx="1428.7" cy="2324" r="12.8"/>
<circle cx="1744.7" cy="2384.5" r="13.3"/>
<circle cx="1967.3" cy="2412" r="13.3"/>
</g>
<g fill="#0000ff">
<rect x="791.7" y="2347.9" width="32" height="27"/>
<rect x="984" y="2403.5" width="33" height="29"/>
<rect x="1449.9" y="2375.4" width="31" height="30"/>
</g>
<rect x="198.7" y="1689" width="1809.7" height="1184.6" fill="none" stroke="#000" stroke-width="5.5"/>
<g font-family="Liberation Sans, Arial, sans-serif" font-size="45" fill="#1a1a1a" text-anchor="middle">
<text x="0" y="2908.5" transform="translate(195.7 0) scale(1.2 1)">20</text>
<text x="0" y="2908.5" transform="translate(558.6 0) scale(1.2 1)">30</text>
<text x="0" y="2908.5" transform="translate(921.6 0) scale(1.2 1)">40</text>
<text x="0" y="2908.5" transform="translate(1282.5 0) scale(1.2 1)">50</text>
<text x="0" y="2908.5" transform="translate(1642.5 0) scale(1.2 1)">60</text>
<text x="0" y="2908.5" transform="translate(2009.4 0) scale(1.2 1)">70</text>
</g>
<text x="1100" y="3004.2" text-anchor="middle" font-family="Liberation Sans, Arial, sans-serif" font-weight="bold" font-size="60" fill="#000" stroke="#000" stroke-width="0.8" textLength="301" lengthAdjust="spacingAndGlyphs">2Theta (&#176;)</text>
<g transform="translate(100.2 2518) rotate(-90) scale(1 1.12)"><text x="0" y="0" font-family="Liberation Sans, Arial, sans-serif" font-weight="bold" font-size="62" fill="#000" stroke="#000" stroke-width="1.2" textLength="396" lengthAdjust="spacingAndGlyphs">Intensity (a. u)</text></g>
<rect x="1618" y="1697" width="377.5" height="139" fill="#fff" stroke="#444" stroke-width="3"/>
<line x1="1623" y1="1730.7" x2="1781" y2="1730.7" stroke="#ff0000" stroke-width="8.5"/>
<line x1="1623" y1="1803.7" x2="1781" y2="1803.7" stroke="#000" stroke-width="9"/>
<g font-family="Liberation Sans, Arial, sans-serif" font-size="64" fill="#000">
<text x="1792" y="1752.6" textLength="198" lengthAdjust="spacingAndGlyphs">Before</text>
<text x="1792" y="1823.3" textLength="144" lengthAdjust="spacingAndGlyphs">After</text>
</g>
<circle cx="1646.1" cy="1970.9" r="13.5" fill="#404040"/>
<rect x="1628.7" y="2040" width="31.7" height="30.5" fill="#0000ff"/>
<g font-family="Liberation Sans, Arial, sans-serif" font-weight="bold" fill="#000" stroke="#000" stroke-width="0.8">
<text x="0" y="1989.1" font-size="62" transform="translate(1687 0) scale(1.075 1)">TiO<tspan font-size="40" dy="21.8">2</tspan></text>
<text x="0" y="2073.6" font-size="62" transform="translate(1703.5 0) scale(1.075 1)">Cu<tspan font-size="40" dy="19">2</tspan><tspan dy="-19">O</tspan></text>
</g>
</g>
<text x="1039.8" y="3165.2" text-anchor="middle" font-family="Liberation Serif, Times New Roman, serif" font-size="78" fill="#000">(<tspan font-weight="bold">b</tspan>)</text>
</svg>
</body></html>
